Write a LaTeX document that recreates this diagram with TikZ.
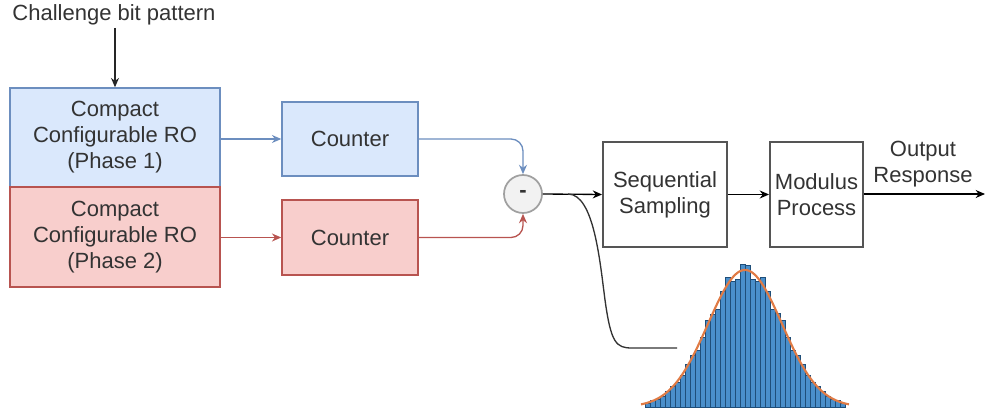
\documentclass[tikz,border=0pt]{standalone}
\usepackage{fontspec}
\setmainfont{Liberation Sans}
\usetikzlibrary{arrows.meta}
\definecolor{bfill}{HTML}{DAE8FC}
\definecolor{bline}{HTML}{6C8EBF}
\definecolor{rfill}{HTML}{F8CECC}
\definecolor{rline}{HTML}{B85450}
\definecolor{txt}{HTML}{333333}
\definecolor{gline}{HTML}{555555}
\definecolor{cfill}{HTML}{F2F2F2}
\definecolor{cline}{HTML}{A0A0A0}
\definecolor{barfill}{HTML}{4A8FCB}
\definecolor{baredge}{HTML}{1F4E79}
\definecolor{fitc}{HTML}{E07B45}
\begin{document}
\begin{tikzpicture}[x=0.75pt,y=-0.75pt,
  every node/.style={font=\fontsize{16.5}{19.5}\selectfont, text=txt, align=center, inner sep=0pt},
  plain/.style={draw=gline, line width=1.4pt, fill=white},
  arr/.style={-{Stealth[length=7pt,width=6pt]}, line width=1pt},
  ]
\useasboundingbox (0,0) rectangle (985,413);
% title
\node (chal) at (114,15) {Challenge bit pattern};
\coordinate (chs) at (115,28);
% RO boxes
\node[draw=bline, fill=bfill, line width=1.1pt, minimum width=210*0.75pt, minimum height=99*0.75pt] (ro1) at (115,137.5) {Compact\\Configurable RO\\(Phase 1)};
\node[draw=rline, fill=rfill, line width=1.1pt, minimum width=210*0.75pt, minimum height=100*0.75pt] (ro2) at (115,237) {Compact\\Configurable RO\\(Phase 2)};
% counters
\node[draw=bline, fill=bfill, line width=1.1pt, minimum width=136*0.75pt, minimum height=74*0.75pt] (c1) at (350,139) {Counter};
\node[draw=rline, fill=rfill, line width=1.1pt, minimum width=136*0.75pt, minimum height=75*0.75pt] (c2) at (350,237.5) {Counter};
% subtractor
\node[circle, draw=cline, fill=cfill, line width=1.3pt, minimum size=38*0.75pt] (sub) at (523,194) {\textbf{-}};
% processing boxes
\node[plain, minimum width=124*0.75pt, minimum height=105*0.75pt] (seq) at (665,194.5) {Sequential\\Sampling};
\node[plain, minimum width=93*0.75pt, minimum height=105*0.75pt] (mod) at (816.5,194.5) {Modulus\\Process};
\coordinate (out) at (985,194);
\node (outlbl) at (923,164) {Output\\Response};
% connectors
\draw[arr, black!85] (chs) -- (ro1.north);
\draw[arr, bline] (ro1.east |- c1.west) -- (c1.west);
\draw[arr, rline] (ro2.east |- c2.west) -- (c2.west);
\draw[arr, bline, rounded corners=9pt] (c1.east) -| (sub.north);
\draw[arr, rline, rounded corners=9pt] (c2.east) -| (sub.south);
\draw[arr, black] (sub.east) -- (seq.west);
\draw[arr, black] (seq.east) -- (mod.west);
\draw[arr, black] (mod.east |- out) -- (out);
% tap curve to histogram
\coordinate (tap) at (568,194);
\coordinate (histL) at (677,348);
\draw[line width=1pt, black!80] (tap) .. controls (594,194) and (600,262) .. (605,300)
  .. controls (611,343) and (616,348) .. (632,348) -- (histL);
% histogram
\foreach \i in {0,...,39}{
  \pgfmathsetmacro{\xl}{645+5*\i}
  \pgfmathsetmacro{\xc}{\xl+2.5}
  \pgfmathsetmacro{\h}{137*exp(-((\xc-745)/37)^2/2)*(1+0.06*sin(\i*97))}
  \fill[barfill, draw=baredge, line width=0.35pt] (\xl,407) rectangle (\xl+5,407-\h);
}
\draw[fitc, line width=1.6pt, domain=641:849, samples=120, smooth] plot (\x,{407-137*exp(-((\x-745)/37)^2/2)});
\end{tikzpicture}
\end{document}
